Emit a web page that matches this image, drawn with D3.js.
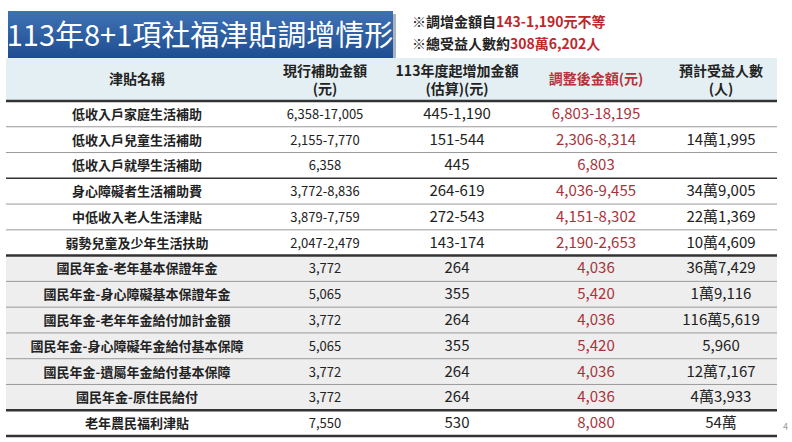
<!DOCTYPE html>
<html><head><meta charset="utf-8">
<script src="https://cdn.jsdelivr.net/npm/d3@7"></script>
<style>body{margin:0;background:#fff;font-family:"Noto Sans CJK TC","Noto Sans",sans-serif}</style>
</head><body><div id="chart"></div>
<script>
const headers = [["津貼名稱"], ["現行補助金額", "(元)"], ["113年度起增加金額", "(估算)(元)"], ["調整後金額(元)"], ["預計受益人數", "(人)"]];
const names = ["低收入戶家庭生活補助", "低收入戶兒童生活補助", "低收入戶就學生活補助", "身心障礙者生活補助費", "中低收入老人生活津貼", "弱勢兒童及少年生活扶助",
  "國民年金-老年基本保證年金", "國民年金-身心障礙基本保證年金", "國民年金-老年年金給付加計金額", "國民年金-身心障礙年金給付基本保障", "國民年金-遺屬年金給付基本保障", "國民年金-原住民給付", "老年農民福利津貼"];
const current = ["6,358-17,005", "2,155-7,770", "6,358", "3,772-8,836", "3,879-7,759", "2,047-2,479", "3,772", "5,065", "3,772", "5,065", "3,772", "3,772", "7,550"];
const increase = ["445-1,190", "151-544", "445", "264-619", "272-543", "143-174", "264", "355", "264", "355", "264", "264", "530"];
const adjusted = ["6,803-18,195", "2,306-8,314", "6,803", "4,036-9,455", "4,151-8,302", "2,190-2,653", "4,036", "5,420", "4,036", "5,420", "4,036", "4,036", "8,080"];
const people = ["", "14萬1,995", "", "34萬9,005", "22萬1,369", "10萬4,609", "36萬7,429", "1萬9,116", "116萬5,619", "5,960", "12萬7,167", "4萬3,933", "54萬"];

const W = 792, H = 442;
const svg = d3.select("#chart").append("svg").attr("width", W).attr("height", H);
const defs = svg.append("defs");
const g = defs.append("linearGradient").attr("id", "tg").attr("x1", 0).attr("y1", 0).attr("x2", 0).attr("y2", 1);
g.append("stop").attr("offset", 0).attr("stop-color", "#3f72b4");
g.append("stop").attr("offset", 1).attr("stop-color", "#1d4d90");

// title
svg.append("rect").attr("x", 11).attr("y", 14).attr("width", 385).attr("height", 48).attr("fill", "#a9b3c2");
svg.append("rect").attr("x", 8).attr("y", 11).attr("width", 385).attr("height", 48).attr("fill", "url(#tg)");
svg.append("text").attr("x", 200).attr("y", 46).attr("text-anchor", "middle").attr("fill", "#fff")
  .attr("font-size", 29).text("113年8+1項社福津貼調增情形");
const note1 = svg.append("text").attr("x", 412).attr("y", 27).attr("font-size", 14).attr("font-weight", "bold").attr("fill", "#222");
note1.append("tspan").text("※調增金額自");
note1.append("tspan").attr("fill", "#c0272d").text("143-1,190元不等");
const note2 = svg.append("text").attr("x", 412).attr("y", 49).attr("font-size", 14).attr("font-weight", "bold").attr("fill", "#222");
note2.append("tspan").text("※總受益人數約");
note2.append("tspan").attr("fill", "#c0272d").text("308萬6,202人");

// table
const x0 = 6, x1 = 777;
const colX = [137, 325, 457, 596, 721];
const headTop = 58, headBot = 101;
const y = d3.scaleLinear().domain([0, names.length]).range([headBot, 436]);
const rh = y(1) - y(0);

svg.append("rect").attr("x", x0).attr("y", headTop).attr("width", x1 - x0).attr("height", headBot - headTop).attr("fill", "#e4eff3");
headers.forEach((h, i) => {
  h.forEach((line, j) => {
    svg.append("text").attr("x", colX[i]).attr("y", h.length === 1 ? 84 : 76 + j * 18)
      .attr("text-anchor", "middle").attr("font-size", 14).attr("font-weight", "bold")
      .attr("fill", i === 3 ? "#b8323a" : "#222").text(line);
  });
});

const rows = svg.append("g").selectAll("g").data(names).join("g")
  .attr("transform", (d, i) => `translate(0,${y(i)})`);
rows.append("rect").attr("x", x0).attr("width", x1 - x0).attr("height", rh)
  .attr("fill", (d, i) => (i >= 6 && i <= 11) ? "#eeeeee" : "#fff");
rows.append("text").attr("x", colX[0]).attr("y", rh / 2 + 5).attr("text-anchor", "middle")
  .attr("font-size", 13).attr("font-weight", "bold").attr("fill", "#222").text(d => d);
const cols = [current, increase, adjusted, people];
cols.forEach((arr, c) => {
  rows.append("text").attr("x", colX[c + 1]).attr("y", rh / 2 + 5)
    .attr("text-anchor", "middle")
    .attr("font-family", "'Liberation Sans Narrow','Noto Sans CJK TC',sans-serif")
    .attr("font-size", c === 0 ? 13 : 15)
    .attr("fill", c === 2 ? "#a8323a" : "#222")
    .text((d, i) => arr[i]);
});

// row lines
const thick = [0, 6, 12, 13];
const dark = [3];
d3.range(0, names.length + 1).forEach(i => {
  svg.append("line").attr("x1", x0).attr("x2", x1).attr("y1", y(i)).attr("y2", y(i))
    .attr("stroke", thick.includes(i) || dark.includes(i) ? "#333" : "#999")
    .attr("stroke-width", thick.includes(i) ? 2.5 : (dark.includes(i) ? 1.5 : 1));
});
svg.append("text").attr("x", 783).attr("y", 430).attr("font-size", 9).attr("fill", "#999").text("4");
</script></body></html>
